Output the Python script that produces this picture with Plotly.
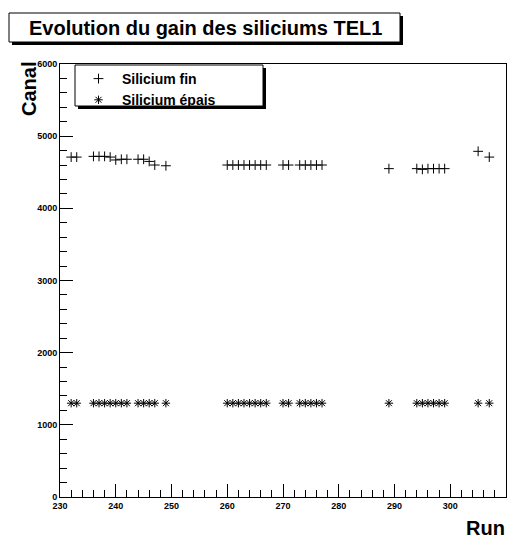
import plotly.graph_objects as go

runs = [232, 233, 236, 237, 238, 239, 240, 241, 242, 244, 245, 246, 247, 249,
        260, 261, 262, 263, 264, 265, 266, 267, 270, 271, 273, 274, 275, 276, 277,
        289, 294, 295, 296, 297, 298, 299, 305, 307]
gain_fin = [4710, 4710, 4720, 4720, 4720, 4710, 4670, 4680, 4680, 4680, 4680, 4650, 4600, 4590,
            4600, 4600, 4600, 4600, 4600, 4600, 4600, 4600, 4600, 4600, 4600, 4600, 4600, 4600, 4600,
            4550, 4550, 4540, 4550, 4550, 4550, 4550, 4790, 4710]
gain_epais = [1300, 1300, 1300, 1300, 1300, 1300, 1300, 1300, 1300, 1300, 1300, 1300, 1300, 1300,
              1300, 1300, 1300, 1300, 1300, 1300, 1300, 1300, 1300, 1300, 1300, 1300, 1300, 1300, 1300,
              1300, 1300, 1300, 1300, 1300, 1300, 1300, 1300, 1300]
x_ticks = [230, 240, 250, 260, 270, 280, 290, 300, 310]
y_ticks = [0, 1000, 2000, 3000, 4000, 5000, 6000]

FONT = "Liberation Sans"
W, H = 512, 543
L, R, T, B = 60, 6, 64, 46
PW, PH = W - L - R, H - T - B

fig = go.Figure()
fig.add_trace(go.Scatter(x=runs, y=gain_fin, mode="markers", name="Silicium fin",
                         marker=dict(symbol="cross-thin-open", size=7, color="black",
                                     line=dict(width=1, color="black"))))
fig.add_trace(go.Scatter(x=runs, y=gain_epais, mode="markers", name="Silicium épais",
                         marker=dict(symbol="asterisk-open", size=7, color="black",
                                     line=dict(width=1, color="black"))))

def px_x(p):
    return (p - L) / PW

def px_y(p):
    return (H - B - p) / PH

axis_common = dict(showgrid=False, zeroline=False, showline=True, linecolor="black",
                   linewidth=1, mirror=True, ticks="inside", ticklen=13, tickcolor="black",
                   tickfont=dict(family=FONT, size=9, color="black", weight="bold"))

fig.update_layout(
    width=W, height=H,
    margin=dict(l=L, r=R, t=T, b=B),
    paper_bgcolor="white", plot_bgcolor="white",
    xaxis=dict(range=[230, 310], tickvals=x_ticks, ticktext=[str(v) for v in x_ticks],
               minor=dict(dtick=2, ticklen=7, ticks="inside", tickcolor="black", showgrid=False),
               **axis_common),
    yaxis=dict(range=[0, 6000], tickvals=y_ticks, ticktext=[str(v) for v in y_ticks],
               minor=dict(dtick=200, ticklen=7, ticks="inside", tickcolor="black", showgrid=False),
               **axis_common),
    showlegend=True,
    legend=dict(x=px_x(75), y=px_y(63), xanchor="left", yanchor="top",
                bgcolor="rgba(0,0,0,0)", borderwidth=0,
                font=dict(family=FONT, size=14, color="black", weight="bold"),
                itemwidth=37, tracegroupgap=0),
    shapes=[
        # title shadow + box
        dict(type="rect", xref="paper", yref="paper", layer="below",
             x0=px_x(12), x1=px_x(403), y0=px_y(16), y1=px_y(45),
             fillcolor="black", line=dict(width=0)),
        dict(type="rect", xref="paper", yref="paper", layer="below",
             x0=px_x(9), x1=px_x(400), y0=px_y(13), y1=px_y(42),
             fillcolor="white", line=dict(width=1, color="black")),
        # legend shadow + box
        dict(type="rect", xref="paper", yref="paper", layer="below",
             x0=px_x(78), x1=px_x(266), y0=px_y(68), y1=px_y(109),
             fillcolor="black", line=dict(width=0)),
        dict(type="rect", xref="paper", yref="paper", layer="below",
             x0=px_x(75), x1=px_x(263), y0=px_y(65), y1=px_y(106),
             fillcolor="white", line=dict(width=1, color="black")),
    ],
    annotations=[
        dict(text="Evolution du gain des siliciums TEL1", xref="paper", yref="paper",
             x=px_x(205), y=px_y(28), xanchor="center", yanchor="middle", showarrow=False,
             font=dict(family=FONT, size=20, color="black", weight="bold")),
        dict(text="Canal", xref="paper", yref="paper", x=px_x(29), y=px_y(89),
             xanchor="center", yanchor="middle", textangle=-90, showarrow=False,
             font=dict(family=FONT, size=20, color="black", weight="bold")),
        dict(text="Run", xref="paper", yref="paper", x=px_x(507), y=px_y(528),
             xanchor="right", yanchor="middle", showarrow=False,
             font=dict(family=FONT, size=20, color="black", weight="bold")),
    ],
)

fig.write_html("out.html", config={"displayModeBar": False},
               post_script="document.body.style.margin='0px';")
